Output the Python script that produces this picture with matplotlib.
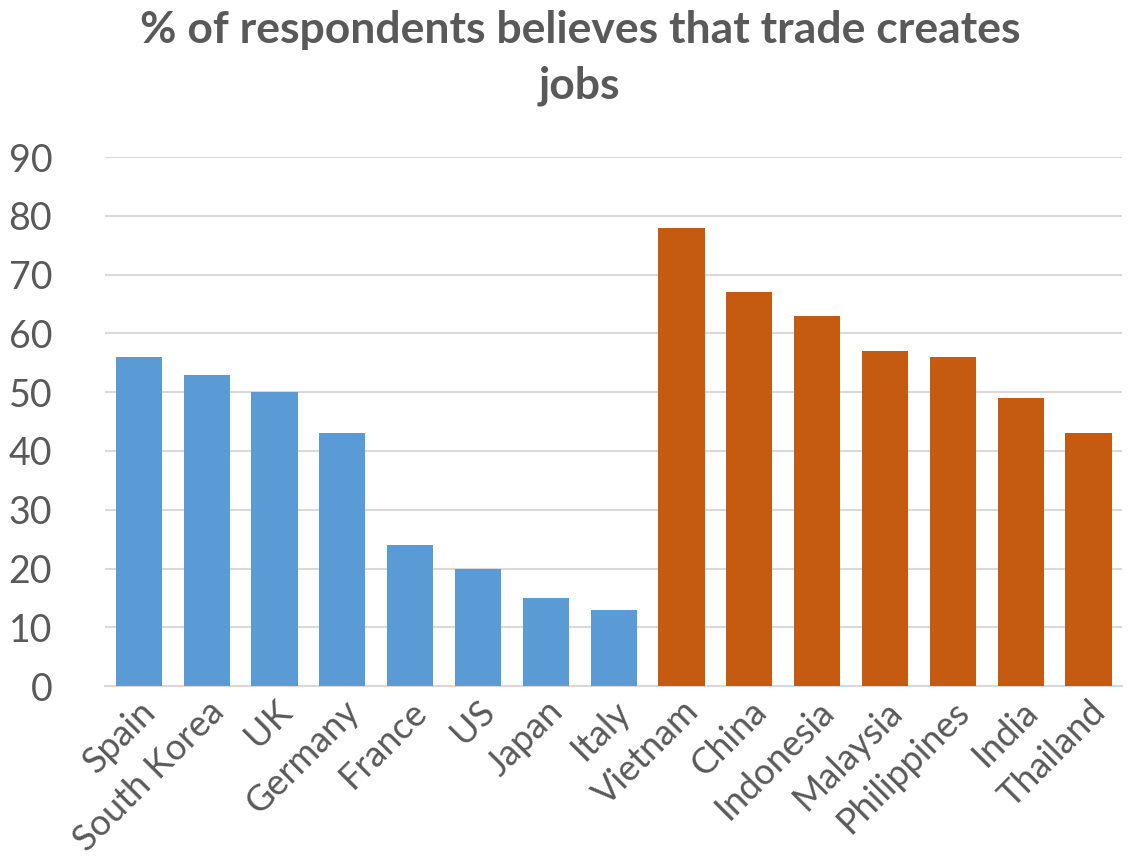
import matplotlib
matplotlib.use("Agg")
import matplotlib.pyplot as plt
import numpy as np

plt.rcParams['font.family'] = ['Lato', 'DejaVu Sans']

# data
countries = ['Spain', 'South Korea', 'UK', 'Germany', 'France', 'US', 'Japan', 'Italy',
             'Vietnam', 'China', 'Indonesia', 'Malaysia', 'Philippines', 'India', 'Thailand']
values = [56, 53, 50, 43, 24, 20, 15, 13,
          78, 67, 63, 57, 56, 49, 43]
n_blue = 8  # first 8 are advanced economies (blue), rest orange

blue = '#5B9BD5'
orange = '#C55A11'
grey_txt = '#595959'
grid_col = '#D9D9D9'

fig = plt.figure(figsize=(11.28, 8.63), dpi=100)
ax = fig.add_axes([0.093, 0.205, 0.902, 0.613])

x = np.arange(len(countries))
colors = [blue if i < n_blue else orange for i in range(len(countries))]
ax.bar(x, values, width=0.68, color=colors, zorder=3)

ax.set_xlim(-0.5, len(countries) - 0.5)
ax.set_ylim(0, 90)
ax.set_yticks(np.arange(0, 91, 10))
ax.yaxis.grid(True, color=grid_col, linewidth=1.5, zorder=0)
ax.tick_params(axis='y', length=0, labelsize=27, labelcolor=grey_txt, pad=38)
ax.tick_params(axis='x', length=0, labelsize=26, labelcolor=grey_txt, pad=6)
ax.set_xticks(x)
ax.set_xticklabels(countries, rotation=45, ha='right', rotation_mode='anchor')

for s in ['top', 'right', 'left']:
    ax.spines[s].set_visible(False)
ax.spines['bottom'].set_color(grid_col)
ax.spines['bottom'].set_linewidth(1.5)

fig.text(0.514, 0.988, '% of respondents believes that trade creates\njobs',
         ha='center', va='top', fontsize=32, fontweight='bold', color=grey_txt,
         linespacing=1.45)

fig.savefig('out.png', dpi=100)
